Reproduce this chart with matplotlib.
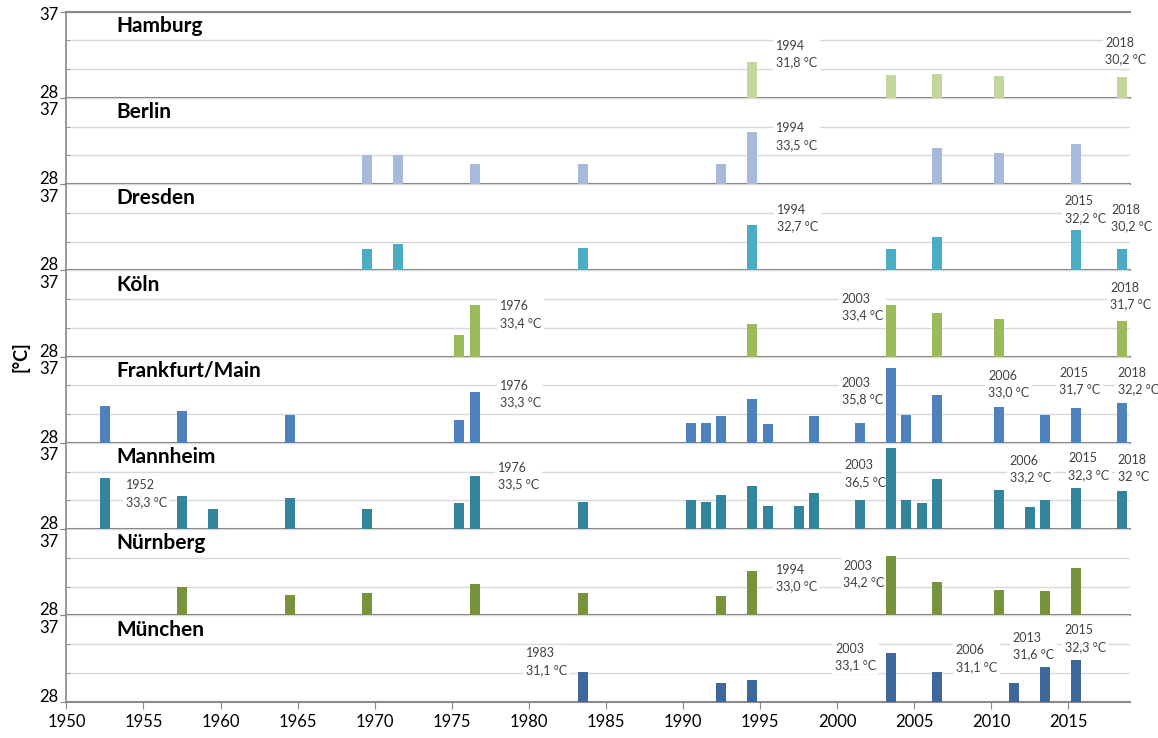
import matplotlib
matplotlib.use("Agg")
import matplotlib.pyplot as plt
from matplotlib.ticker import FixedLocator

plt.rcParams['font.family'] = ['Lato', 'DejaVu Sans']

# Data: hottest days per city (year -> max temperature, °C)
cities = ['Hamburg', 'Berlin', 'Dresden', 'Köln', 'Frankfurt/Main', 'Mannheim', 'Nürnberg', 'München']

hamburg_years = [1994, 2003, 2006, 2010, 2018]
hamburg_vals = [31.8, 30.4, 30.5, 30.3, 30.2]

berlin_years = [1969, 1971, 1976, 1983, 1992, 1994, 2006, 2010, 2015]
berlin_vals = [31.0, 31.0, 30.1, 30.1, 30.1, 33.5, 31.8, 31.3, 32.2]

dresden_years = [1969, 1971, 1983, 1994, 2003, 2006, 2015, 2018]
dresden_vals = [30.2, 30.8, 30.3, 32.7, 30.2, 31.5, 32.2, 30.2]

koeln_years = [1975, 1976, 1994, 2003, 2006, 2010, 2018]
koeln_vals = [30.3, 33.4, 31.4, 33.4, 32.6, 31.9, 31.7]

frankfurt_years = [1952, 1957, 1964, 1975, 1976, 1990, 1991, 1992, 1994, 1995,
                   1998, 2001, 2003, 2004, 2006, 2010, 2013, 2015, 2018]
frankfurt_vals = [31.9, 31.3, 30.9, 30.4, 33.3, 30.1, 30.1, 30.8, 32.6, 30.0,
                  30.8, 30.1, 35.8, 30.9, 33.0, 31.8, 30.9, 31.7, 32.2]

mannheim_years = [1952, 1957, 1959, 1964, 1969, 1975, 1976, 1983, 1990, 1991,
                  1992, 1994, 1995, 1997, 1998, 2001, 2003, 2004, 2005, 2006,
                  2010, 2012, 2013, 2015, 2018]
mannheim_vals = [33.3, 31.5, 30.1, 31.3, 30.1, 30.75, 33.5, 30.8, 31.0, 30.85,
                 31.55, 32.5, 30.4, 30.4, 31.8, 31.0, 36.5, 31.0, 30.7, 33.2,
                 32.1, 30.3, 31.0, 32.3, 32.0]

nuernberg_years = [1957, 1964, 1969, 1976, 1983, 1992, 1994, 2003, 2006, 2010, 2013, 2015]
nuernberg_vals = [31.0, 30.1, 30.35, 31.3, 30.3, 30.0, 32.6, 34.2, 31.5, 30.7, 30.55, 33.0]

muenchen_years = [1983, 1992, 1994, 2003, 2006, 2011, 2013, 2015]
muenchen_vals = [31.1, 30.0, 30.3, 33.1, 31.1, 30.0, 31.6, 32.3]

# labels: (x in years, y in °C of text centre, text)
hamburg_notes = [(1996.05, 32.55, '1994\n31,8 °C'), (2017.4, 32.9, '2018\n30,2 °C')]
berlin_notes = [(1996.05, 32.97, '1994\n33,5 °C')]
dresden_notes = [(1996.1, 33.44, '1994\n32,7 °C'), (2014.76, 34.34, '2015\n32,2 °C'),
                 (2017.8, 33.44, '2018\n30,2 °C')]
koeln_notes = [(1978.1, 32.4, '1976\n33,4 °C'), (2000.3, 33.16, '2003\n33,4 °C'),
               (2017.7, 34.35, '2018\n31,7 °C')]
frankfurt_notes = [(1978.1, 33.09, '1976\n33,3 °C'), (2000.3, 33.4, '2003\n35,8 °C'),
                   (2009.8, 34.12, '2006\n33,0 °C'), (2014.4, 34.43, '2015\n31,7 °C'),
                   (2018.2, 34.43, '2018\n32,2 °C')]
mannheim_notes = [(1953.84, 31.72, '1952\n33,3 °C'), (1978.0, 33.57, '1976\n33,5 °C'),
                  (2000.5, 33.8, '2003\n36,5 °C'), (2011.2, 34.27, '2006\n33,2 °C'),
                  (2015.0, 34.54, '2015\n32,3 °C'), (2018.2, 34.35, '2018\n32 °C')]
nuernberg_notes = [(1996.05, 31.9, '1994\n33,0 °C'), (2000.4, 32.3, '2003\n34,2 °C')]
muenchen_notes = [(1979.8, 32.17, '1983\n31,1 °C'), (1999.86, 32.66, '2003\n33,1 °C'),
                  (2007.7, 32.5, '2006\n31,1 °C'), (2011.4, 33.77, '2013\n31,6 °C'),
                  (2014.76, 34.6, '2015\n32,3 °C')]

colors = ['#C3D69B', '#A9B9DA', '#4BACC6', '#9BBB59', '#4F81BD', '#31859C', '#77933C', '#3E689B']

all_years = [hamburg_years, berlin_years, dresden_years, koeln_years,
             frankfurt_years, mannheim_years, nuernberg_years, muenchen_years]
all_vals = [hamburg_vals, berlin_vals, dresden_vals, koeln_vals,
            frankfurt_vals, mannheim_vals, nuernberg_vals, muenchen_vals]
all_notes = [hamburg_notes, berlin_notes, dresden_notes, koeln_notes,
             frankfurt_notes, mannheim_notes, nuernberg_notes, muenchen_notes]

YMIN, YMAX = 28, 37
SPINE = '#898989'
GRID = '#D9D9D9'

fig, axes = plt.subplots(8, 1, figsize=(11.58, 7.38), dpi=100, sharex=True,
                         gridspec_kw={'hspace': 0})
fig.subplots_adjust(left=0.0573, right=0.9758, top=0.9841, bottom=0.0492)

for i, ax in enumerate(axes):
    years = [y + 0.5 for y in all_years[i]]
    heights = [v - YMIN for v in all_vals[i]]
    ax.bar(years, heights, bottom=YMIN, width=0.65, color=colors[i], zorder=4)

    ax.set_ylim(YMIN, YMAX)
    ax.set_xlim(1950, 2019)
    for g in [31, 34, 37]:
        ax.axhline(g, color=GRID, lw=1, zorder=0)

    # y ticks: marks only, labels drawn by hand so 28/37 don't collide
    ax.set_yticks([28, 37])
    ax.set_yticklabels([])
    ax.yaxis.set_minor_locator(FixedLocator([31, 34]))
    ax.tick_params(axis='y', which='major', length=4, color=SPINE)
    ax.tick_params(axis='y', which='minor', length=3, direction='in', color=SPINE)
    ytr = ax.get_yaxis_transform()
    ax.text(-0.0075, 28, '28', transform=ytr, ha='right', va='baseline', fontsize=12)
    if i == 0:
        ax.text(-0.0075, 36.7, '37', transform=ytr, ha='right', va='center', fontsize=12)
    else:
        # pushed down below the "28" of the panel above, as in the original
        ax.text(-0.0075, 36.55, '37', transform=ytr, ha='right', va='top', fontsize=12)

    ax.spines['right'].set_visible(False)
    ax.spines['top'].set_visible(i == 0)
    ax.spines['top'].set_color(SPINE)
    ax.spines['left'].set_color(SPINE)
    ax.spines['bottom'].set_color(SPINE)
    ax.spines['bottom'].set_linewidth(1.5)
    ax.spines['top'].set_linewidth(1.5)
    ax.spines['left'].set_linewidth(1.2)

    ax.text(0.047, 34.9, cities[i], transform=ytr,
            fontsize=15, fontweight='bold', va='baseline', ha='left')

    for nx, ny, txt in all_notes[i]:
        ax.text(nx, ny, txt, fontsize=9, color='#404040', ha='left', va='center',
                linespacing=1.45, zorder=3,
                bbox=dict(facecolor='white', edgecolor='none', pad=2))

    if i < 7:
        ax.tick_params(axis='x', which='both', length=0, labelbottom=False)

axes[-1].set_xticks(range(1950, 2016, 5))
axes[-1].tick_params(axis='x', length=5, color=SPINE, labelsize=12, pad=4)

fig.text(0.018, 1 - 357 / 738, '[°C]', rotation=90, ha='center', va='center',
         fontsize=13, fontweight='bold')

plt.savefig('out.png', dpi=100)
